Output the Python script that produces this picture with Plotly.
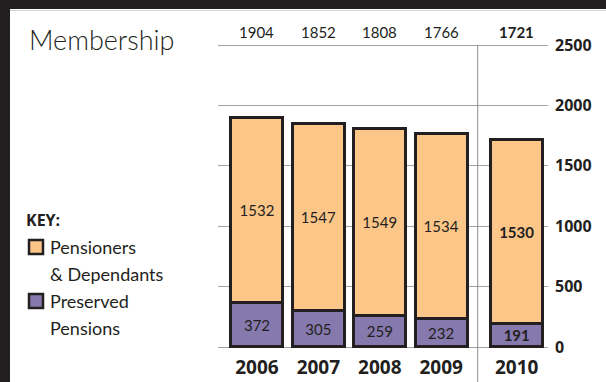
import plotly.graph_objects as go

# Membership by year
years = ["2006", "2007", "2008", "2009", "2010"]
pensioners = [1532, 1547, 1549, 1534, 1530]   # Pensioners & Dependants
preserved = [372, 305, 259, 232, 191]         # Preserved Pensions
totals = [p + q for p, q in zip(pensioners, preserved)]
y_ticks = [0, 500, 1000, 1500, 2000, 2500]

# Styling
ORANGE = "#FBC688"
PURPLE = "#8679AE"
INK = "#231F20"
GRID = "#A3A3A3"
LIGHT_FONT = "Lato"
BOLD_FONT = "Open Sans"

# Vertical scale: value 0 at 347 px, 2500 at 45 px (a little padding either side
# so the end gridlines are drawn inside the plot area)
Y_LO, Y_HI = -25, 2525
PX_PER_UNIT = (347 - 45) / 2500
y_bottom_px = 347 + (0 - Y_LO) * PX_PER_UNIT
y_top_px = 45 - (Y_HI - 2500) * PX_PER_UNIT

# The latest year sits in its own panel, pushed right of the others
latest_shift = 0.23
xpos = [i + (latest_shift if i == len(years) - 1 else 0) for i in range(len(years))]
divider_x = (xpos[-2] + xpos[-1]) / 2 - 0.02


def label(v, i):
    s = str(v)
    return f"<b>{s}</b>" if i == len(years) - 1 else s


fig = go.Figure()
fig.add_trace(go.Bar(
    x=xpos, y=preserved, width=0.847, name="Preserved Pensions",
    marker=dict(color=PURPLE, line=dict(color=INK, width=3)),
    text=[label(v, i) for i, v in enumerate(preserved)],
    textposition="inside", insidetextanchor="middle", constraintext="none",
    textfont=dict(family=LIGHT_FONT, size=15, color=INK),
    hoverinfo="skip",
))
fig.add_trace(go.Bar(
    x=xpos, y=pensioners, width=0.847, name="Pensioners & Dependants",
    marker=dict(color=ORANGE, line=dict(color=INK, width=3)),
    text=[label(v, i) for i, v in enumerate(pensioners)],
    textposition="inside", insidetextanchor="middle", constraintext="none",
    textfont=dict(family=LIGHT_FONT, size=15, color=INK),
    hoverinfo="skip",
))

# Totals printed above the chart
for i, (x, t) in enumerate(zip(xpos, totals)):
    fig.add_annotation(
        x=x, xref="x", y=1 - 32 / 382, yref="paper", yanchor="middle",
        text=label(t, i), showarrow=False,
        font=dict(family=LIGHT_FONT, size=15, color=INK),
    )

# Title
fig.add_annotation(
    x=27 / 606, xref="paper", xanchor="left", y=1 - 39 / 382, yref="paper", yanchor="middle",
    text="Membership", showarrow=False,
    font=dict(family=LIGHT_FONT, size=27, color=INK, weight=300),
)

# Key
fig.add_annotation(
    x=24 / 606, xref="paper", xanchor="left", y=1 - 220 / 382, yref="paper", yanchor="middle",
    text="<b>KEY:</b>", showarrow=False,
    font=dict(family=BOLD_FONT, size=16, color=INK),
)
key_rows = [
    (ORANGE, ["Pensioners", "& Dependants"], 247),
    (PURPLE, ["Preserved", "Pensions"], 301),
]
for color, lines, ytop in key_rows:
    fig.add_shape(
        type="rect", xref="paper", yref="paper",
        x0=29 / 606, x1=43 / 606, y0=1 - (ytop + 7) / 382, y1=1 - (ytop - 7) / 382,
        fillcolor=color, line=dict(color=INK, width=2.5),
    )
    for k, line in enumerate(lines):
        fig.add_annotation(
            x=48 / 606, xref="paper", xanchor="left",
            y=1 - (ytop + 27 * k) / 382, yref="paper", yanchor="middle",
            text=line, showarrow=False,
            font=dict(family=LIGHT_FONT, size=18, color=INK),
        )

# Divider separating the latest year
fig.add_shape(
    type="line", xref="x", yref="paper",
    x0=divider_x, x1=divider_x, y0=0, y1=1 - 45 / 382,
    line=dict(color="#8C8C8C", width=1),
)

# Page frame
fig.add_shape(type="rect", xref="paper", yref="paper", x0=0, x1=1, y0=1 - 9 / 382, y1=1,
              fillcolor=INK, line=dict(width=0), layer="above")
fig.add_shape(type="rect", xref="paper", yref="paper", x0=0, x1=10 / 606, y0=0, y1=1,
              fillcolor=INK, line=dict(width=0), layer="above")
fig.add_shape(type="line", xref="paper", yref="paper", x0=10 / 606, x1=1,
              y0=1 - 10.5 / 382, y1=1 - 10.5 / 382,
              line=dict(color="#D5D5D5", width=1))

fig.update_layout(
    width=606, height=382,
    margin=dict(l=0, r=0, t=0, b=0, autoexpand=False),
    paper_bgcolor="white", plot_bgcolor="white",
    barmode="stack", showlegend=False,
    xaxis=dict(
        domain=[218 / 606, 548 / 606], range=[-0.635, 4.74],
        tickvals=xpos, ticktext=[f"<b>{y}</b>" for y in years],
        tickfont=dict(family=BOLD_FONT, size=19, color=INK),
        showgrid=False, zeroline=False, showline=False, ticks="",
        ticklabelstandoff=4, automargin=False,
    ),
    yaxis=dict(
        domain=[1 - y_bottom_px / 382, 1 - y_top_px / 382], range=[Y_LO, Y_HI],
        tickvals=y_ticks, ticktext=[f"<b>{v}</b>" for v in y_ticks],
        side="right", tickfont=dict(family=BOLD_FONT, size=16, color=INK),
        showgrid=True, gridcolor=GRID, gridwidth=1,
        zeroline=False, showline=False, ticks="", ticklabelstandoff=6,
        automargin=False,
    ),
)

fig.write_html("out.html")
